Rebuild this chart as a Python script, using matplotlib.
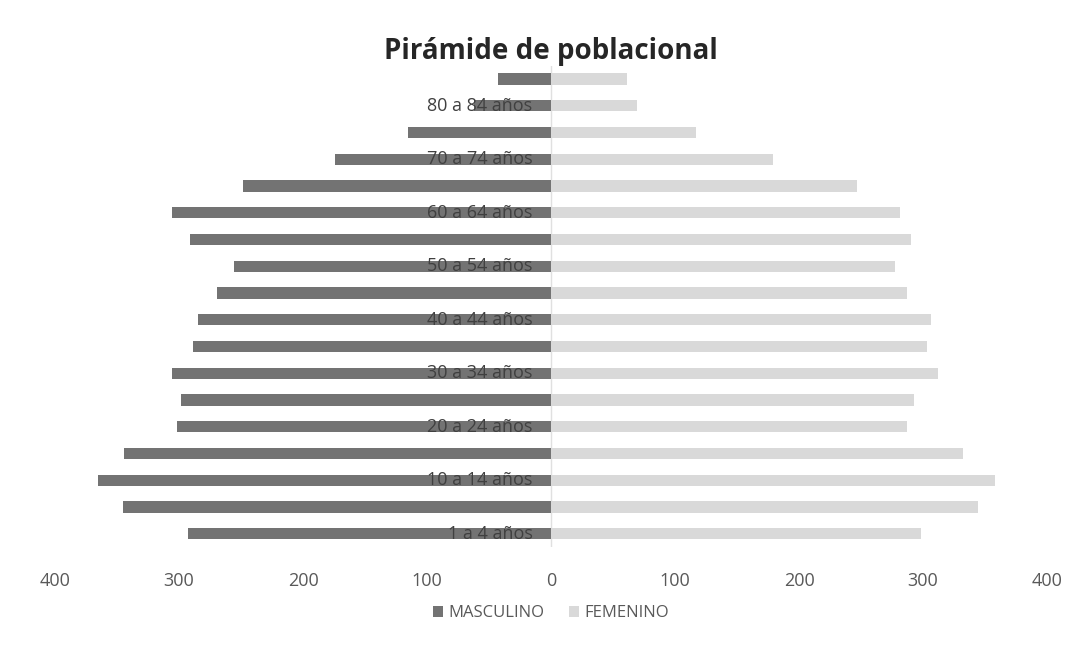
import numpy as np
import matplotlib
matplotlib.use('Agg')
import matplotlib.pyplot as plt

plt.rcParams['font.family'] = ['Open Sans', 'DejaVu Sans']

grupos = ['1 a 4 años', '5 a 9 años', '10 a 14 años', '15 a 19 años', '20 a 24 años',
          '25 a 29 años', '30 a 34 años', '35 a 39 años', '40 a 44 años', '45 a 49 años',
          '50 a 54 años', '55 a 59 años', '60 a 64 años', '65 a 69 años', '70 a 74 años',
          '75 a 79 años', '80 a 84 años', '85 años y más']
masculino = [293, 345, 365, 344, 302, 298, 306, 289, 285, 269,
             256, 291, 306, 248, 174, 115, 62, 43]
femenino = [298, 344, 358, 332, 287, 293, 312, 303, 306, 287,
            277, 290, 281, 247, 179, 117, 69, 61]
xticks = [-400, -300, -200, -100, 0, 100, 200, 300, 400]

fig = plt.figure(figsize=(10.84, 6.49), dpi=100)
ax = fig.add_axes([0.0507, 0.157, 0.9153, 0.742])

y = np.arange(len(grupos))
ax.barh(y, -np.array(masculino), height=0.42, color='#737373', label='MASCULINO', zorder=2)
ax.barh(y, femenino, height=0.42, color='#d9d9d9', label='FEMENINO', zorder=2)

for i, g in enumerate(grupos):
    if i % 2 == 0:
        ax.text(-15, i, g, ha='right', va='center', fontsize=13, color='#404040', zorder=3)

ax.set_xlim(-400, 400)
ax.set_ylim(-0.5, len(grupos) - 0.5)
ax.set_xticks(xticks)
ax.set_xticklabels([str(abs(v)) for v in xticks], fontsize=13, color='#595959')
ax.tick_params(axis='x', length=0, pad=18)
ax.set_yticks([])
ax.axvline(0, color='#e0e0e0', lw=1, zorder=1)
for s in ax.spines.values():
    s.set_visible(False)

ax.set_title('Pirámide de poblacional', fontsize=20, fontweight='bold', color='#262626', pad=0)
ax.legend(loc='upper center', bbox_to_anchor=(0.5, -0.09), ncol=2, frameon=False,
          fontsize=12, handlelength=0.6, handleheight=0.6, columnspacing=1.5,
          handletextpad=0.3, labelcolor='#595959')

fig.savefig('out.png', dpi=100)
